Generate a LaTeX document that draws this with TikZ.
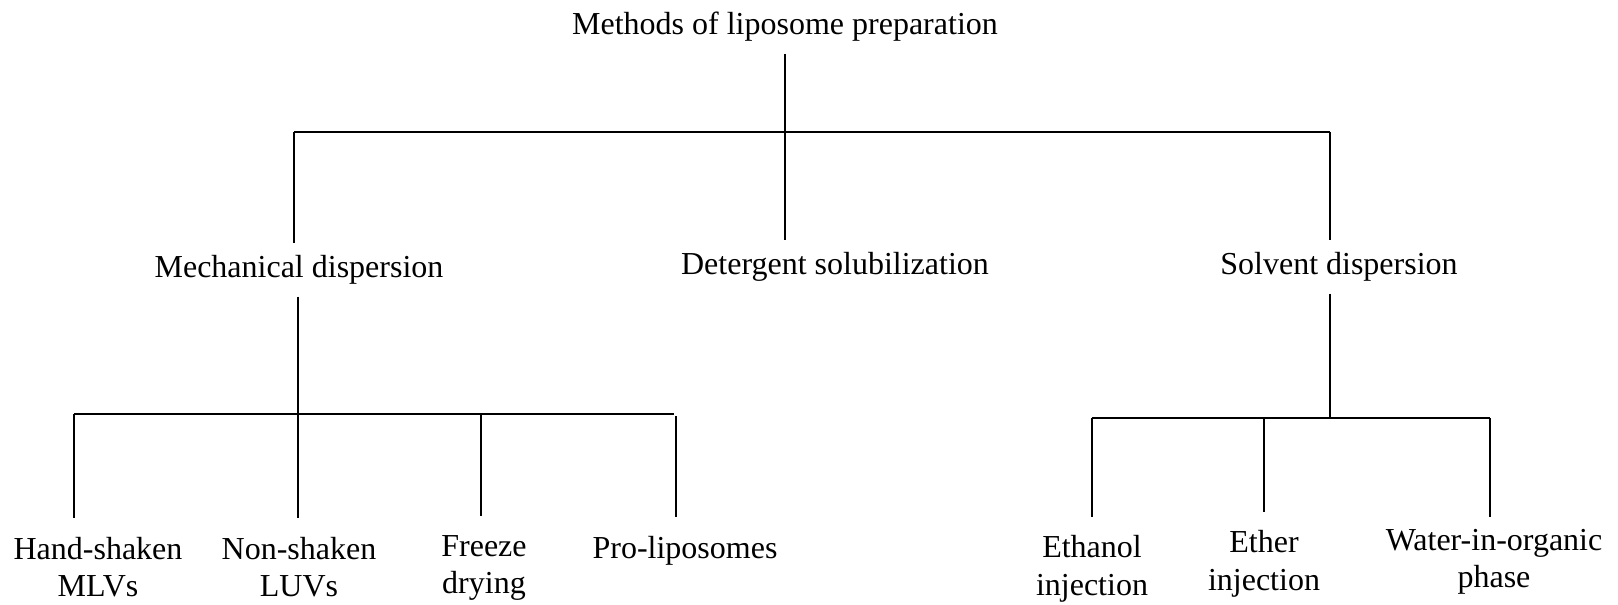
\documentclass[tikz,border=0pt]{standalone}
\usepackage{fontspec}
\setmainfont{Liberation Serif}
\begin{document}
\begin{tikzpicture}[x=0.4pt,y=-0.4pt,line width=0.8pt,
    lbl/.style={align=center,inner sep=4.4pt,font=\fontsize{12.8}{15}\selectfont},
    drop/.style={shorten >=2.8pt}]
      \useasboundingbox (0,0) rectangle (1618,605);
      \draw
        (785,27) node[lbl] (root){Methods of liposome preparation}
        (299,270) node[lbl] (mech){Mechanical dispersion}
        (835,267) node[lbl] (det){Detergent solubilization}
        (1339,267) node[lbl] (solv){Solvent dispersion}
        (98,567) node[lbl] (hand){Hand-shaken\\MLVs}
        (299,567) node[lbl] (non){Non-shaken\\LUVs}
        (484,568) node[lbl] (freeze){Freeze\\drying}
        (685,551) node[lbl] (pro){Pro-liposomes}
        (1092,569) node[lbl] (eth){Ethanol\\injection}
        (1264,564) node[lbl] (ether){Ether\\injection}
        (1494,562) node[lbl] (water){Water-in-organic\\phase};
      \coordinate (j0) at (785,132);
      \coordinate (j1) at (294,132);
      \coordinate (j2) at (1330,132);
      \coordinate (m0) at (298,414);
      \coordinate (m1) at (74,414);
      \coordinate (m2) at (481,414);
      \coordinate (m3) at (674,414);
      \coordinate (m4) at (676,416);
      \coordinate (s0) at (1330,418);
      \coordinate (s1) at (1092,418);
      \coordinate (s2) at (1264,418);
      \coordinate (s3) at (1490,418);
      \begin{scope}[-]
        \draw (root) to (j0);
        \draw (j1) to (j2);
        \draw (j1) to (j1 |- mech.north);
        \draw (j0) to (j0 |- det.north);
        \draw (j2) to (j2 |- solv.north);
        \draw (m0 |- mech.south) to (m0);
        \draw (m1) to (m3);
        \draw[drop] (m1) to (m1 |- hand.north);
        \draw[drop] (m0) to (m0 |- non.north);
        \draw[drop] (m2) to (m2 |- freeze.north);
        \draw[drop] (m4) to (m4 |- pro.north);
        \draw (s0 |- solv.south) to (s0);
        \draw (s1) to (s3);
        \draw[drop] (s1) to (eth);
        \draw[drop] (s2) to (ether);
        \draw (s3) to (s3 |- water.north);
      \end{scope}
    \end{tikzpicture}
\end{document}
